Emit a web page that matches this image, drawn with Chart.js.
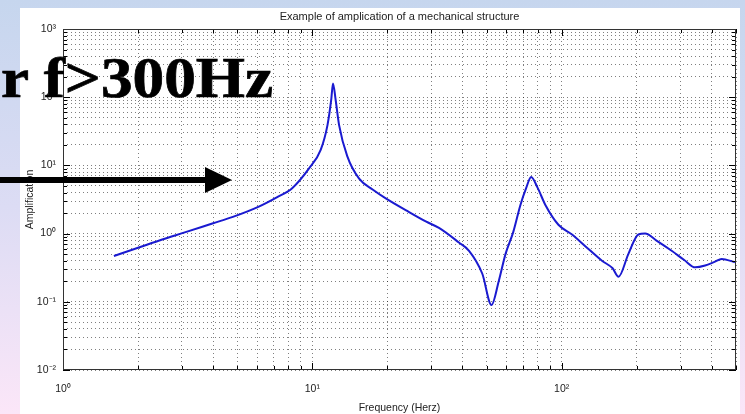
<!DOCTYPE html>
<html>
<head>
<meta charset="utf-8">
<script src="https://cdn.jsdelivr.net/npm/chart.js@4/dist/chart.umd.min.js"></script>
<style>
  html, body { margin:0; padding:0; }
  body { width:745px; height:414px; overflow:hidden; position:relative;
         background: linear-gradient(to bottom, #c6d6ee 0%, #dcdcf4 50%, #fbe6f8 100%); }
  #fig { position:absolute; left:20px; top:8px; width:720px; height:406px; background:#fff; }
  #c { position:absolute; left:0; top:0; }
  #note { position:absolute; left:1px; top:49px; font: bold 57px "Liberation Serif", "Times New Roman", serif;
          line-height:57px; color:#000; white-space:nowrap; -webkit-text-stroke: 0.7px #000;
          transform: scaleX(1.11); transform-origin: 0 0; }
  #arrow { position:absolute; left:0; top:0; }
</style>
</head>
<body>
<div id="fig"></div>
<canvas id="c" width="745" height="414"></canvas>
<svg id="arrow" width="745" height="414">
  <rect x="0" y="177" width="208" height="6" fill="#000"/>
  <polygon points="205,167 232,180 205,193" fill="#000"/>
</svg>
<div id="note">r f&gt;300Hz</div>
<script>
const titleText = "Example of amplication of a mechanical structure";
const xTitle = "Frequency (Herz)";
const yTitle = "Amplification";

const freq = [1.6, 2.0, 2.5, 3.1, 4.0, 4.8, 6.1, 7.2, 8.3, 9.7, 10.8, 11.5, 11.9, 12.1, 12.4, 12.8, 13.8, 15.4, 17.5, 19.7, 24, 28.5, 32.2, 38.7, 42.5, 48, 52.3, 55.9, 59.5, 64, 68.3, 72, 75.4, 80, 86, 97, 110, 124, 145, 160, 169, 185, 203, 216, 240, 276, 310, 343, 376, 410, 438, 495];
const amp  = [0.47, 0.62, 0.82, 1.05, 1.42, 1.76, 2.49, 3.4, 4.64, 9.05, 16.9, 39, 91, 159, 91, 39, 13.7, 6.4, 4.4, 3.29, 2.15, 1.51, 1.21, 0.74, 0.56, 0.26, 0.09, 0.20, 0.50, 1.07, 2.63, 4.64, 6.76, 4.72, 2.63, 1.35, 0.97, 0.66, 0.40, 0.31, 0.233, 0.50, 0.97, 1.0, 0.79, 0.56, 0.41, 0.32, 0.34, 0.385, 0.425, 0.38];

const xMin = 1, xMax = 500;
const yMin = 0.01, yMax = 1000;
const supers = {"-":"⁻","0":"⁰","1":"¹","2":"²","3":"³"};
const decadeLabel = e => "10" + String(e).split("").map(ch => supers[ch]).join("");

function logTicks(min, max) {
  const out = [];
  for (let e = Math.floor(Math.log10(min)); e <= Math.ceil(Math.log10(max)); e++) {
    for (let m = 1; m <= 9; m++) {
      const v = +(m * Math.pow(10, e)).toPrecision(6);
      if (v >= min * 0.9999 && v <= max * 1.0001) out.push({value: v});
    }
  }
  return out;
}
const isDecade = v => Math.abs(Math.log10(v) - Math.round(Math.log10(v))) < 1e-6;
const tickCb = v => isDecade(v) ? decadeLabel(Math.round(Math.log10(v))) : "";
const FONT = "'Liberation Sans', Arial, sans-serif";
const zeroPad = s => { s.paddingLeft = 0; s.paddingRight = 0; s.paddingTop = 0; s.paddingBottom = 0; };

const frame = {
  id: "frame",
  afterDraw(chart) {
    const {ctx, chartArea: a, scales: {x, y}} = chart;
    ctx.save();
    ctx.strokeStyle = "#000";
    ctx.lineWidth = 1;
    ctx.beginPath();
    x.ticks.forEach(t => {
      const p = Math.round(x.getPixelForValue(t.value)) + 0.5;
      const len = isDecade(t.value) ? 7 : 4;
      ctx.moveTo(p, a.bottom); ctx.lineTo(p, a.bottom - len);
      ctx.moveTo(p, a.top); ctx.lineTo(p, a.top + len);
    });
    y.ticks.forEach(t => {
      const p = Math.round(y.getPixelForValue(t.value)) + 0.5;
      const len = isDecade(t.value) ? 7 : 4;
      ctx.moveTo(a.left, p); ctx.lineTo(a.left + len, p);
      ctx.moveTo(a.right, p); ctx.lineTo(a.right - len, p);
    });
    ctx.stroke();
    ctx.strokeStyle = "#333";
    ctx.strokeRect(Math.round(a.left) + 0.5, Math.round(a.top) + 0.5,
                   Math.round(a.right - a.left) - 1, Math.round(a.bottom - a.top) - 1);
    ctx.fillStyle = "#222";
    ctx.font = "11px " + FONT;
    ctx.textAlign = "center";
    ctx.textBaseline = "middle";
    ctx.fillText(titleText, (a.left + a.right) / 2, 17);
    ctx.restore();
  }
};

const gridColor = "rgba(0,0,0,0.5)";

new Chart(document.getElementById("c"), {
  type: "line",
  data: {
    datasets: [{
      data: freq.map((f, i) => ({x: f, y: amp[i]})),
      borderColor: "#1a1ad0",
      borderWidth: 2,
      pointRadius: 0,
      cubicInterpolationMode: "monotone",
      fill: false
    }]
  },
  options: {
    responsive: false,
    animation: false,
    devicePixelRatio: 1,
    layout: { padding: { left: 0, right: 9, top: 29, bottom: 0 } },
    plugins: { legend: { display: false }, tooltip: { enabled: false }, title: { display: false } },
    scales: {
      x: {
        type: "logarithmic", position: "bottom", min: xMin, max: xMax,
        afterBuildTicks: s => { s.ticks = logTicks(xMin, xMax); },
        afterFit: s => { s.height = 44; zeroPad(s); },
        grid: { color: gridColor, lineWidth: 1, drawTicks: false },
        border: { display: false, dash: [1, 3] },
        ticks: { autoSkip: false, maxRotation: 0, padding: 13, color: "#222",
                 font: { family: FONT, size: 10.5 }, callback: tickCb },
        title: { display: true, text: xTitle, color: "#222",
                 font: { family: FONT, size: 10.5 }, padding: { top: 0, bottom: 0 } }
      },
      y: {
        type: "logarithmic", position: "left", min: yMin, max: yMax,
        afterBuildTicks: s => { s.ticks = logTicks(yMin, yMax); },
        afterFit: s => { s.width = 63; zeroPad(s); },
        grid: { color: gridColor, lineWidth: 1, drawTicks: false },
        border: { display: false, dash: [1, 3] },
        ticks: { autoSkip: false, padding: 7, color: "#222",
                 font: { family: FONT, size: 10.5 }, callback: tickCb },
        title: { display: true, text: yTitle, color: "#222",
                 font: { family: FONT, size: 10.5 }, padding: { top: 24, bottom: 0 } }
      }
    }
  },
  plugins: [frame]
});
</script>
</body>
</html>
